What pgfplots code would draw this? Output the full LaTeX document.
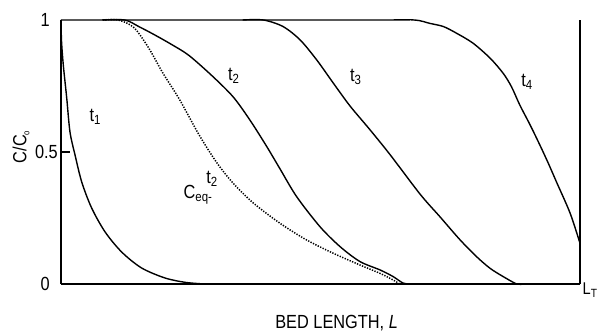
\documentclass[border=0pt]{standalone}
\usepackage{fontspec}
\setmainfont{Liberation Sans}[FakeStretch=0.86]
\usepackage{pgfplots}
\pgfplotsset{compat=1.18}
\begin{document}
\fontsize{19}{23}\selectfont
\begin{tikzpicture}
\path[use as bounding box] (0,0) rectangle (599pt,336pt);
\begin{axis}[
  at={(61pt,52pt)}, anchor=south west,
  scale only axis, width=519pt, height=264pt,
  xmin=0, xmax=1, ymin=0, ymax=1,
  clip=false,
  axis x line=bottom, axis y line=left,
  axis line style={-, line width=1.5pt},
  xtick=\empty,
  ytick={0.5}, yticklabels={0.5},
  extra y ticks={0,1}, extra y tick labels={0,1},
  extra y tick style={major tick length=0pt, yticklabel style={xshift=-8pt}},
  tick align=inside, major tick length=9pt,
  tick style={line width=1.3pt, black},
  /pgf/number format/assume math mode=true,
  yticklabel style={anchor=east, inner sep=3pt},
  ylabel={C/C\raisebox{-0.3ex}{\small o}},
  ylabel style={at={(axis description cs:-0.077,0.519)}, anchor=center},
  xlabel={BED LENGTH, \textit{L}},
  xlabel style={at={(axis description cs:0.531,-0.148)}, anchor=center},
]
% t1
\addplot[black, line width=1.4pt, smooth, tension=0.5] coordinates {
 (0,1)(0.001,0.92)(0.0044,0.830)(0.011,0.705)(0.0173,0.576)(0.027,0.489)
 (0.040,0.386)(0.059,0.288)(0.085,0.197)(0.117,0.121)(0.155,0.061)
 (0.200,0.023)(0.240,0.006)(0.277,0)};
% t2
\addplot[black, line width=1.4pt, smooth, tension=0.5] coordinates {
 (0.08,1)(0.123,1)(0.15,0.975)(0.181,0.943)(0.215,0.905)(0.247,0.865)
 (0.293,0.785)(0.332,0.708)(0.364,0.621)(0.396,0.522)(0.422,0.436)
 (0.454,0.331)(0.499,0.217)(0.538,0.141)(0.576,0.085)(0.615,0.053)
 (0.640,0.028)(0.660,0.003)(0.68,0)};
% Ceq t2 (dotted)
\addplot[black, smooth, tension=0.5, line width=1.5pt, dash pattern=on 1.3pt off 1.4pt] coordinates {
 (0.08,1)(0.110,1)(0.140,0.972)(0.168,0.897)(0.196,0.800)(0.228,0.700)
 (0.266,0.565)(0.300,0.460)(0.332,0.381)(0.371,0.306)(0.422,0.230)
 (0.473,0.167)(0.525,0.116)(0.576,0.072)(0.615,0.040)(0.640,0.015)(0.653,0)};
% t3
\addplot[black, line width=1.4pt, smooth, tension=0.5] coordinates {
 (0.35,1)(0.390,1)(0.428,0.975)(0.461,0.924)(0.493,0.848)(0.525,0.760)
 (0.557,0.674)(0.595,0.585)(0.634,0.49)(0.692,0.340)(0.730,0.255)
 (0.769,0.167)(0.801,0.103)(0.827,0.059)(0.852,0.028)(0.878,0)(0.89,0)};
% t4
\addplot[black, line width=1.4pt, smooth, tension=0.5] coordinates {
 (0,1)(0.6,1)(0.68,1)(0.711,0.987)(0.737,0.975)(0.762,0.950)(0.794,0.912)
 (0.827,0.855)(0.852,0.798)(0.868,0.747)(0.884,0.678)(0.904,0.602)
 (0.923,0.525)(0.939,0.457)(0.955,0.385)(0.981,0.268)(1.0,0.154)};
% right boundary L_T
\addplot[black, line width=1.5pt] coordinates {(1,0)(1,1)};
% labels
\node[inner sep=0] at (axis cs:0.066,0.633) {t\textsubscript{1}};
\node[inner sep=0] at (axis cs:0.333,0.788) {t\textsubscript{2}};
\node[inner sep=0] at (axis cs:0.291,0.398) {t\textsubscript{2}};
\node[inner sep=0] at (axis cs:0.264,0.337) {C\textsubscript{eq-}};
\node[inner sep=0] at (axis cs:0.568,0.784) {t\textsubscript{3}};
\node[inner sep=0] at (axis cs:0.898,0.765) {t\textsubscript{4}};
\node[inner sep=0, anchor=north west, font=\fontsize{17}{20}\selectfont] at (axis cs:1,0) [xshift=2.5pt, yshift=1pt] {L\textsubscript{T}};
\end{axis}
\end{tikzpicture}
\end{document}
